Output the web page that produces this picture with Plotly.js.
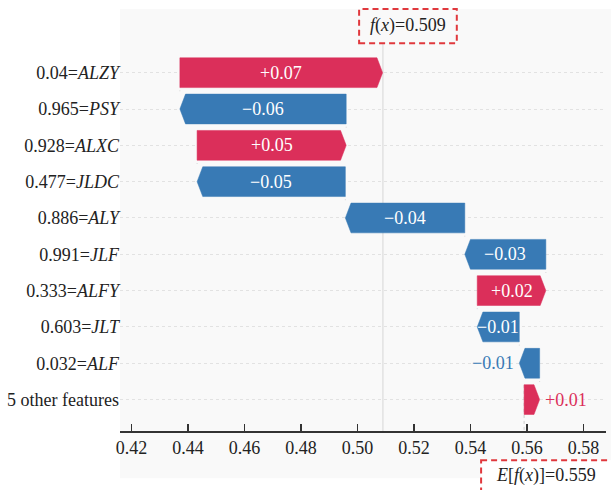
<!DOCTYPE html>
<html>
<head>
<meta charset="utf-8">
<script src="https://cdn.plot.ly/plotly-3.0.1.min.js"></script>
<style>html,body{margin:0;padding:0;background:#fff;}#chart{width:611px;height:490px;}</style>
</head>
<body>
<div id="chart"></div>
<script>
// ---- data (top row first) ----
const featureNames = ["ALZY", "PSY", "ALXC", "JLDC", "ALY", "JLF", "ALFY", "JLT", "ALF", "5 other features"];
const featureValues = ["0.04", "0.965", "0.928", "0.477", "0.886", "0.991", "0.333", "0.603", "0.032", ""];
const shapValues = [0.0718, -0.0589, 0.0528, -0.0525, -0.0423, -0.0287, 0.0243, -0.0149, -0.0072, 0.0055];
const baseValue = 0.559;   // E[f(x)]
const fxValue = 0.509;     // f(x)
const xTickVals = [0.42, 0.44, 0.46, 0.48, 0.50, 0.52, 0.54, 0.56, 0.58];

// ---- styling ----
const RED = "#db2f5a", BLUE = "#387ab5";
const FONT = "Liberation Serif";
const n = featureNames.length;
const halfH = 0.41;      // half bar height (category units)
const headLen = 0.002;   // arrow head length (data units)

// cumulative starts/ends, bottom row starts at base value
const starts = new Array(n), ends = new Array(n);
let run = baseValue;
for (let i = n - 1; i >= 0; i--) {
  starts[i] = run;
  ends[i] = run + shapValues[i];
  run = ends[i];
}
const rowY = i => n - 1 - i;

function polyFor(idxs) {
  const xs = [], ys = [];
  idxs.forEach(i => {
    const s = starts[i], e = ends[i], y = rowY(i);
    const d = Math.sign(shapValues[i]);
    const hl = Math.min(headLen, Math.abs(shapValues[i]));
    xs.push(s, e - d * hl, e, e - d * hl, s, s, null);
    ys.push(y - halfH, y - halfH, y, y + halfH, y + halfH, y - halfH, null);
  });
  return {xs, ys};
}
const posIdx = [], negIdx = [];
shapValues.forEach((v, i) => (v >= 0 ? posIdx : negIdx).push(i));
const posP = polyFor(posIdx), negP = polyFor(negIdx);

// connector lines
const cx = [], cy = [];
for (let i = 0; i < n - 1; i++) {
  const loc = starts[i];
  cx.push(loc, loc, null);
  cy.push(rowY(i) - halfH - 0.1, rowY(i + 1) + halfH + 0.1, null);
}
// base value line down to axis
cx.push(baseValue, baseValue, null);
cy.push(-1, rowY(n - 1) + halfH, null);

const traces = [
  {x: cx, y: cy, mode: "lines", line: {color: "#cccccc", width: 1, dash: "dot"}, hoverinfo: "skip"},
  {x: posP.xs, y: posP.ys, mode: "lines", fill: "toself", fillcolor: RED, line: {color: RED, width: 0.5}, hoverinfo: "skip"},
  {x: negP.xs, y: negP.ys, mode: "lines", fill: "toself", fillcolor: BLUE, line: {color: BLUE, width: 0.5}, hoverinfo: "skip"}
];

function fmt(v) {
  return (v >= 0 ? "+" : "\u2212") + Math.abs(v).toFixed(2);
}
const annotations = [];
shapValues.forEach((v, i) => {
  const inside = Math.abs(v) > 0.01;
  if (inside) {
    annotations.push({x: (starts[i] + ends[i]) / 2, y: rowY(i), xref: "x", yref: "y",
      text: fmt(v), showarrow: false, font: {family: FONT, size: 18, color: "#ffffff"}});
  } else {
    annotations.push({x: ends[i], y: rowY(i), xref: "x", yref: "y",
      text: fmt(v), showarrow: false, xanchor: v >= 0 ? "left" : "right", xshift: v >= 0 ? 3 : -3,
      font: {family: FONT, size: 18, color: v >= 0 ? RED : BLUE}});
  }
});
annotations.push({x: 0.593, y: 1.038, xref: "paper", yref: "paper", showarrow: false,
  xanchor: "center", yanchor: "middle",
  text: "<i>f</i>(<i>x</i>)=" + fxValue.toFixed(3), font: {family: FONT, size: 18, color: "#222"}});
annotations.push({x: 0.877, y: -0.113, xref: "paper", yref: "paper", showarrow: false,
  xanchor: "center", yanchor: "middle",
  text: "<i>E</i>[<i>f</i>(<i>x</i>)]=" + baseValue.toFixed(3), font: {family: FONT, size: 18, color: "#222"}});

const tickText = featureNames.map((f, i) => featureValues[i] ? featureValues[i] + "=<i>" + f + "</i>" : f);
const tickVals = featureNames.map((f, i) => rowY(i));

const layout = {
  width: 611, height: 490,
  margin: {l: 120, r: 5, t: 40, b: 59.3},
  paper_bgcolor: "#ffffff", plot_bgcolor: "rgba(0,0,0,0)",
  showlegend: false,
  font: {family: FONT, size: 18, color: "#222"},
  xaxis: {range: [0.4159, 0.588], tickvals: xTickVals, tickformat: ".2f",
    ticks: "inside", ticklen: 7, tickwidth: 1.2, tickcolor: "#333",
    showline: true, linecolor: "#333", linewidth: 1.5, showgrid: false, zeroline: false,
    tickfont: {family: FONT, size: 18, color: "#222"}},
  yaxis: {range: [-0.865, 9.9], tickvals: tickVals, ticktext: tickText, ticks: "",
    showgrid: true, gridcolor: "#e2e2e2", griddash: "dot", gridwidth: 1,
    zeroline: false, showline: false, ticklabelstandoff: 0,
    tickfont: {family: FONT, size: 18, color: "#222"}},
  shapes: [
    {type: "rect", xref: "paper", yref: "paper", x0: 0, x1: 1.02, y0: -0.121, y1: 1.079,
      fillcolor: "#f9f9f9", line: {width: 0}, layer: "below"},
    {type: "line", xref: "x", yref: "paper", x0: fxValue, x1: fxValue, y0: 0, y1: 1,
      line: {color: "#d6d6d6", width: 1}, layer: "below"},
    {type: "rect", xref: "paper", yref: "paper", x0: 0.492, x1: 0.693, y0: 0.992, y1: 1.079,
      fillcolor: "#f9f9f9", line: {color: "#e0383d", width: 2, dash: "6px,4px"}},
    {type: "rect", xref: "paper", yref: "paper", x0: 0.743, x1: 1.03, y0: -0.075, y1: -0.17,
      fillcolor: "#ffffff", line: {color: "#e0383d", width: 2, dash: "6px,4px"}}
  ],
  annotations: annotations
};

Plotly.newPlot("chart", traces, layout, {displayModeBar: false, staticPlot: true});
</script>
</body>
</html>
